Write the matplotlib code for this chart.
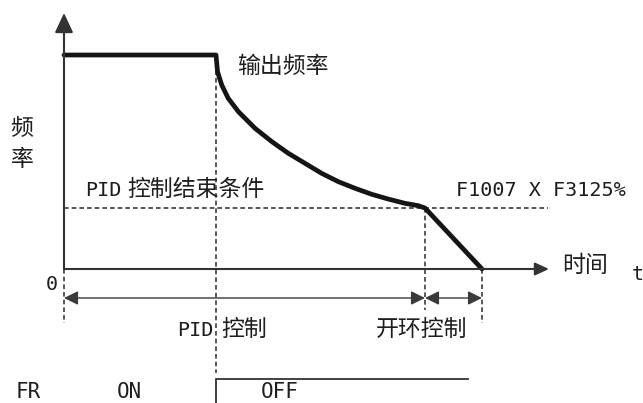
import matplotlib
matplotlib.use("Agg")
import matplotlib.pyplot as plt

# ---------------- data ----------------
# output frequency (% of set frequency) versus time (arbitrary units)
hold_t = [0.0, 4.0]
hold_f = [100.0, 100.0]
pid_t = [4.0, 4.04, 4.15, 4.32, 4.59, 5.03, 5.47, 5.90, 6.34, 6.78,
         7.22, 7.66, 8.10, 8.53, 8.97, 9.32, 9.5]
pid_f = [100.0, 92.2, 86.0, 79.8, 73.5, 65.7, 59.5, 54.1, 49.4, 44.7,
         40.8, 37.7, 34.9, 32.7, 30.7, 29.6, 28.5]
open_t = [9.5, 11.0]
open_f = [28.5, 0.0]

end_level = 28.5          # F1007 x F3125%
t_pid_start = 4.0
t_pid_end = 9.5
t_stop = 11.0

fr_t = [4.0, 4.0, 10.63]
fr_v = [0.0, 1.0, 1.0]

labels = {
    "out": "输出频率",
    "ylab": ["频", "率"],
    "cond_lat": "PID",
    "cond_cjk": "控制结束条件",
    "level": "F1007 X F3125%",
    "zero": "0",
    "time": "时间",
    "t": "t",
    "pid_lat": "PID",
    "pid_cjk": "控制",
    "open": "开环控制",
    "fr": "FR",
    "on": "ON",
    "off": "OFF",
}

# ---------------- layout ----------------
W, H = 643, 403
X0, Y0 = 64, 269          # origin in pixels
SX, SY = 38.0, 2.14       # pixels per time unit / per %

fig = plt.figure(figsize=(W / 100, H / 100), dpi=100)
ax = fig.add_axes([0, 0, 1, 1])
ax.set_xlim(-X0 / SX, (W - X0) / SX)
ax.set_ylim(-(H - Y0) / SY, Y0 / SY)
ax.axis("off")


def fy(py):
    return (Y0 - py) / SY


def tx(px):
    return (px - X0) / SX


def P(x, y):
    return (x / W, 1 - y / H)


axis_col = "#333333"
dash_col = "#3c3c3c"
txt_col = "#1e1e1e"
dash = (0, (2.8, 1.8))

# axes with arrows
ax.annotate("", xy=(0, fy(13)), xytext=(0, 0),
            arrowprops=dict(arrowstyle="-|>,head_length=0.6,head_width=0.28",
                            mutation_scale=20, lw=1.5, color=axis_col,
                            shrinkA=0, shrinkB=0))
ax.annotate("", xy=(tx(549), 0), xytext=(0, 0),
            arrowprops=dict(arrowstyle="-|>,head_length=0.7,head_width=0.32",
                            mutation_scale=12, lw=1.5, color=axis_col,
                            shrinkA=0, shrinkB=0))

# dashed helper lines
ax.plot([0, tx(548)], [end_level, end_level], ls=dash, lw=1.2, color=dash_col)
ax.plot([t_pid_start, t_pid_start], [100, fy(373)], ls=dash, lw=1.2, color=dash_col)
ax.plot([t_pid_end, t_pid_end], [end_level, fy(310)], ls=dash, lw=1.2, color=dash_col)
ax.plot([0, 0], [0, fy(323)], ls=dash, lw=1.2, color=dash_col)
ax.plot([t_stop, t_stop], [0, fy(323)], ls=dash, lw=1.2, color=dash_col)

# output frequency curve
curve_t = hold_t + pid_t[1:] + open_t[1:]
curve_f = hold_f + pid_f[1:] + open_f[1:]
ax.plot(curve_t, curve_f, lw=3.4, color="#151515",
        solid_capstyle="round", solid_joinstyle="round")

# dimension arrows
arr_y = fy(298)
for a, b in [(0, t_pid_end), (t_pid_end, t_stop)]:
    ax.annotate("", xy=(b, arr_y), xytext=(a, arr_y),
                arrowprops=dict(arrowstyle="<|-|>,head_length=0.85,head_width=0.42",
                                mutation_scale=10, lw=1.0, color="#3a3a3a",
                                shrinkA=0, shrinkB=0))

# FR signal row
axf = fig.add_axes([0, 0, 1, 43 / H])
axf.set_xlim(ax.get_xlim())
axf.set_ylim((410 - 403) / 31, 1 + 19 / 31)
axf.axis("off")
axf.plot(fr_t, fr_v, lw=1.3, color=axis_col, solid_joinstyle="miter")

# ---------------- texts ----------------
cjk = ["Noto Sans CJK SC", "DejaVu Sans"]
mono = ["DejaVu Sans Mono", "Noto Sans CJK SC"]
cs = 16.5
ms = 14.5
T = fig.transFigure


def put(s, x, y, fam, size, ha="left", va="center", color=txt_col):
    fig.text(*P(x, y), s, family=fam, fontsize=size, ha=ha, va=va,
             color=color, transform=T)


put(labels["out"], 237, 66, cjk, cs)
put(labels["ylab"][0], 22, 129, cjk, cs, ha="center")
put(labels["ylab"][1], 22, 160, cjk, cs, ha="center")
put(labels["cond_lat"], 85, 190, mono, ms)
put(labels["cond_cjk"], 127, 189, cjk, cs)
put(labels["level"], 456, 190, mono, ms)
put(labels["zero"], 52, 284, mono, ms, ha="center")
put(labels["time"], 562, 266, cjk, cs)
put(labels["t"], 632, 274, mono, ms)
put(labels["pid_lat"], 177, 330, mono, ms)
put(labels["pid_cjk"], 221, 329, cjk, cs)
put(labels["open"], 376, 329, cjk, cs)
put(labels["fr"], 16, 402, mono, 15, va="bottom")
put(labels["on"], 117, 402, mono, 15, va="bottom")
put(labels["off"], 261, 402, mono, 15, va="bottom")

fig.savefig("out.png", dpi=100)
